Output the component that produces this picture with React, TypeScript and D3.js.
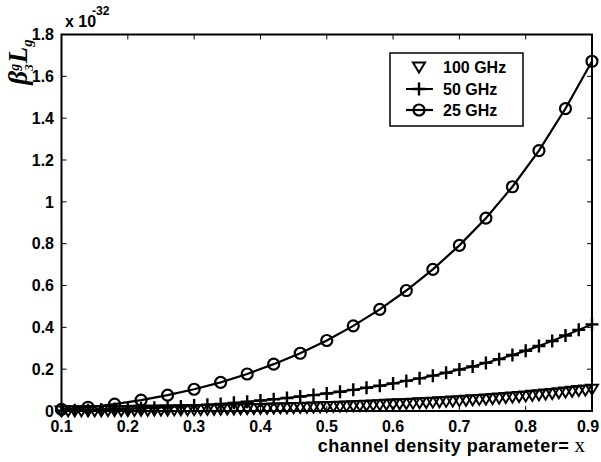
import React from 'react';
import * as d3 from 'd3';

// x grids of the three runs (channel density parameter)
const x25 = d3.range(0, 21).map(i => +(0.1 + i * 0.04).toFixed(2));
const x50 = d3.range(0, 41).map(i => +(0.1 + i * 0.02).toFixed(2));
const x100 = d3.range(0, 81).map(i => +(0.1 + i * 0.01).toFixed(2));

// beta3^g * Lg, in units of 1e-32
const y25 = [
  0.008, 0.018, 0.033, 0.052, 0.076, 0.104, 0.137, 0.177, 0.224, 0.276, 0.337,
  0.407, 0.486, 0.576, 0.677, 0.792, 0.922, 1.072, 1.245, 1.446, 1.672,
];
const y50 = [
  0.002, 0.003, 0.005, 0.007, 0.009, 0.011, 0.013, 0.016, 0.019, 0.022, 0.026,
  0.030, 0.034, 0.039, 0.044, 0.050, 0.056, 0.062, 0.069, 0.076, 0.084,
  0.092, 0.101, 0.111, 0.121, 0.132, 0.144, 0.156, 0.169, 0.183, 0.198,
  0.213, 0.230, 0.248, 0.268, 0.288, 0.311, 0.335, 0.361, 0.388, 0.414,
];
const y100 = [
  0.0005, 0.0007, 0.0009, 0.0010, 0.0011, 0.0013, 0.0015, 0.0018, 0.0021, 0.0024,
  0.0027, 0.0030, 0.0033, 0.0036, 0.0040, 0.0044, 0.0048, 0.0052, 0.0057, 0.0062,
  0.0065, 0.0070, 0.0075, 0.0080, 0.0086, 0.0092, 0.0098, 0.0104, 0.0111, 0.0118,
  0.0125, 0.0132, 0.0140, 0.0148, 0.0156, 0.0164, 0.0173, 0.0182, 0.0191, 0.0201,
  0.0211, 0.0221, 0.0232, 0.0243, 0.0254, 0.0266, 0.0278, 0.0291, 0.0304, 0.0317,
  0.0331, 0.0345, 0.0360, 0.0375, 0.0391, 0.0407, 0.0423, 0.0440, 0.0458, 0.0476,
  0.0495, 0.0514, 0.0534, 0.0555, 0.0576, 0.0598, 0.0621, 0.0645, 0.0670, 0.0695,
  0.0721, 0.0749, 0.0778, 0.0807, 0.0838, 0.0870, 0.0904, 0.0939, 0.0975, 0.1005,
  0.1045,
];

const xTicks = [0.1, 0.2, 0.3, 0.4, 0.5, 0.6, 0.7, 0.8, 0.9];
const yTicks = [0, 0.2, 0.4, 0.6, 0.8, 1, 1.2, 1.4, 1.6, 1.8];
const legendLabels = ['100 GHz', '50 GHz', '25 GHz'];

const W = 601;
const H = 462;
const margin = { left: 61.5, right: 9, top: 34.5, bottom: 51 };
const sans = 'Arial, "Liberation Sans", Helvetica, sans-serif';
const serif = '"Times New Roman", "Liberation Serif", serif';

const tri = (cx: number, cy: number) =>
  `M${cx - 6},${cy - 4.5}L${cx + 6},${cy - 4.5}L${cx},${cy + 5.5}Z`;
const plus = (cx: number, cy: number) =>
  `M${cx - 6.5},${cy}H${cx + 6.5}M${cx},${cy - 6.5}V${cy + 6.5}`;

const App = () => {
  const x = d3.scaleLinear().domain([0.1, 0.9]).range([margin.left, W - margin.right]);
  const y = d3.scaleLinear().domain([0, 1.8]).range([H - margin.bottom, margin.top]);
  const [x0, x1] = x.range();
  const [y0, y1] = y.range();

  const line = d3.line<[number, number]>().x(d => x(d[0])).y(d => y(d[1]));
  const pts25 = x25.map((v, i) => [v, y25[i]] as [number, number]);
  const pts50 = x50.map((v, i) => [v, y50[i]] as [number, number]);
  const pts100 = x100.map((v, i) => [v, y100[i]] as [number, number]);

  const lx = 390, ly = 53, lw = 133, lh = 73;
  const rows = [67, 89, 110];

  return (
    <div style={{ position: 'absolute', left: 0, top: 0 }}>
      <svg width={W} height={H} style={{ display: 'block', background: '#fff' }}>
        {/* ticks on all four sides, pointing in */}
        <g stroke="#000" strokeWidth={1}>
          {xTicks.map(t => (
            <g key={'xt' + t}>
              <line x1={x(t)} x2={x(t)} y1={y0} y2={y0 - 5} />
              <line x1={x(t)} x2={x(t)} y1={y1} y2={y1 + 5} />
            </g>
          ))}
          {yTicks.map(t => (
            <g key={'yt' + t}>
              <line x1={x0} x2={x0 + 5} y1={y(t)} y2={y(t)} />
              <line x1={x1} x2={x1 - 5} y1={y(t)} y2={y(t)} />
            </g>
          ))}
        </g>

        {/* series */}
        <path d={line(pts25) || ''} fill="none" stroke="#000" strokeWidth={2.2} />
        <path d={line(pts50) || ''} fill="none" stroke="#000" strokeWidth={2} />
        {pts25.map((d, i) => (
          <circle key={'c' + i} cx={x(d[0])} cy={y(d[1])} r={5.5} fill="none" stroke="#000" strokeWidth={2.2} />
        ))}
        {pts50.map((d, i) => (
          <path key={'p' + i} d={plus(x(d[0]), y(d[1]))} stroke="#000" strokeWidth={2.4} />
        ))}
        {pts100.map((d, i) => (
          <path key={'t' + i} d={tri(x(d[0]), y(d[1]))} fill="none" stroke="#000" strokeWidth={2} />
        ))}

        {/* axes box */}
        <rect x={x0} y={y1} width={x1 - x0} height={y0 - y1} fill="none" stroke="#000" strokeWidth={2} />

        {/* tick labels */}
        <g fontFamily={sans} fontWeight="bold" fontSize={16} fill="#000">
          {xTicks.map(t => (
            <text key={'xl' + t} x={Math.min(x(t), W - 13)} y={432} textAnchor="middle">{t}</text>
          ))}
          {yTicks.map(t => (
            <text key={'yl' + t} x={54} y={y(t)} dy="0.36em" textAnchor="end">{t}</text>
          ))}
          <text x={65} y={26.5}>x 10</text>
          <text x={92} y={15} fontSize={12}>-32</text>
        </g>

        {/* x label */}
        <text x={585} y={452} textAnchor="end" fontFamily={sans} fontWeight="bold" fontSize={18} letterSpacing={0.5}>
          channel density parameter=
          <tspan fontFamily={serif} fontWeight="normal" fontSize={21} letterSpacing={0}> x</tspan>
        </text>

        {/* y label */}
        <text
          transform="translate(27,62) rotate(-90)"
          textAnchor="middle"
          fontFamily={serif}
          fontStyle="italic"
          fontWeight="bold"
          fontSize={27}
        >
          β
          <tspan fontSize={14} dy={-8}>g</tspan>
          <tspan fontSize={13} dx={-7} dy={14}>3</tspan>
          <tspan dx={1} dy={-6}>L</tspan>
          <tspan fontSize={15} dy={5}>g</tspan>
        </text>

        {/* legend */}
        <rect x={lx} y={ly} width={lw} height={lh} fill="#fff" stroke="#000" strokeWidth={1.5} />
        <path d={tri(419, rows[0])} fill="none" stroke="#000" strokeWidth={2} />
        <line x1={406} x2={433} y1={rows[1]} y2={rows[1]} stroke="#000" strokeWidth={2} />
        <path d={plus(419, rows[1])} stroke="#000" strokeWidth={2.4} />
        <line x1={406} x2={433} y1={rows[2]} y2={rows[2]} stroke="#000" strokeWidth={2.2} />
        <circle cx={419} cy={rows[2]} r={5.5} fill="none" stroke="#000" strokeWidth={2.2} />
        {legendLabels.map((l, i) => (
          <text key={l} x={443} y={rows[i]} dy="0.36em" fontFamily={sans} fontWeight="bold" fontSize={16}>
            {l}
          </text>
        ))}
      </svg>
    </div>
  );
};

export default App;
